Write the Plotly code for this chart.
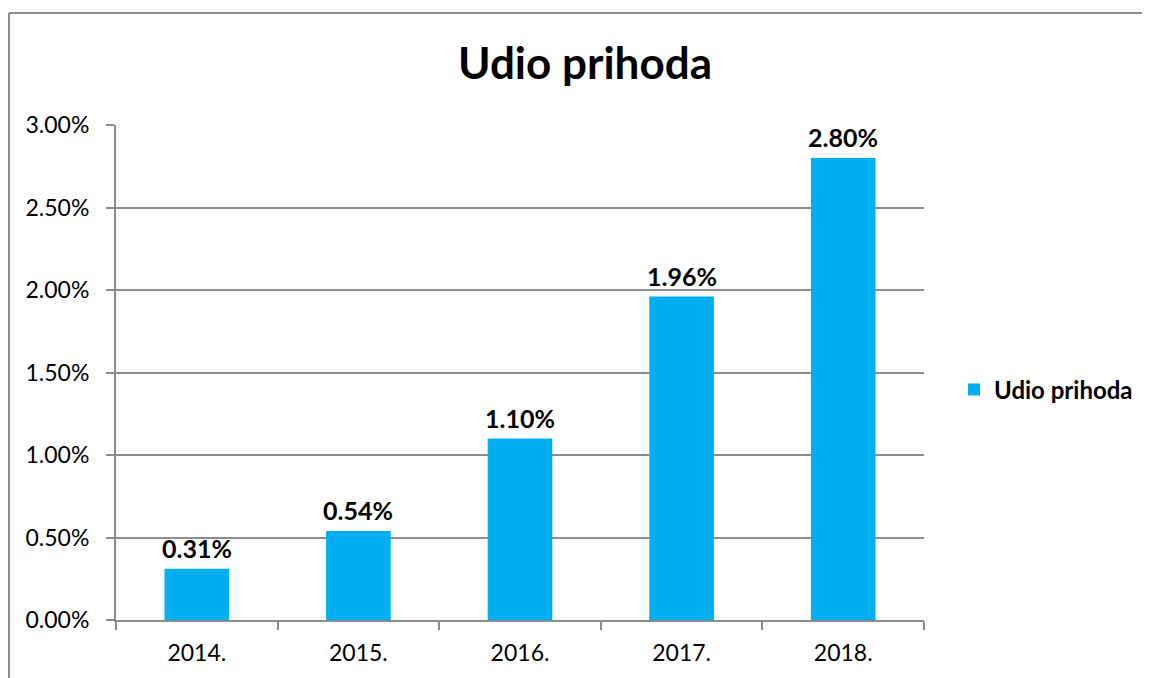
import plotly.graph_objects as go

categories = ["2014.", "2015.", "2016.", "2017.", "2018."]
values = [0.0031, 0.0054, 0.0110, 0.0196, 0.0280]
series_name = "Udio prihoda"
title_text = "Udio prihoda"
y_tickvals = [0, 0.005, 0.01, 0.015, 0.02, 0.025, 0.03]

FONT = "Lato, 'Open Sans', sans-serif"
GRID = "#8c8c8c"

# the page body adds an 8px offset; work in page pixels and convert
OFF = 8
W, H = 1150, 678
PL, PR, PT, PB = 116, 924, 125, 620  # plot area in page pixels
L = PL - OFF
T = PT - OFF
R = W - (PR - OFF)
B = H - (PB - OFF)
pw, ph = W - L - R, H - T - B


def px_x(p):
    return (p - OFF - L) / pw


def px_y(p):
    return (H - B - (p - OFF)) / ph


fig = go.Figure()
fig.add_trace(go.Bar(
    x=categories, y=values, name=series_name,
    marker=dict(color="#00B0F0", line=dict(width=0)),
    showlegend=True,
))

for i, (c, v) in enumerate(zip(categories, values)):
    fig.add_annotation(
        x=i, y=v, xref="x", yref="y", text=f"<b>{v:.2%}</b>",
        showarrow=False, yanchor="bottom", yshift=4,
        font=dict(family=FONT, size=25, color="black"),
    )

fig.update_layout(
    width=W, height=H,
    margin=dict(l=L, r=R, t=T, b=B),
    paper_bgcolor="white", plot_bgcolor="white",
    font=dict(family=FONT, size=23, color="black"),
    title=dict(text="<b>" + title_text + "</b>", x=(585 - OFF) / W, xanchor="center",
               y=1 - (64 - OFF) / H, yanchor="middle", yref="container",
               font=dict(family=FONT, size=44, color="black")),
    bargap=0.6,
    legend=dict(x=px_x(954), xanchor="left", y=px_y(390), yanchor="middle",
                font=dict(family=FONT, size=24, color="black", weight="bold"),
                itemwidth=30, bgcolor="rgba(0,0,0,0)"),
    xaxis=dict(type="category", showline=True, linecolor=GRID, linewidth=2,
               ticks="outside", tickson="boundaries", ticklen=8, tickcolor=GRID,
               tickwidth=2, showgrid=False, tickfont=dict(size=23, family=FONT),
               ticklabelstandoff=11, tickangle=0),
    yaxis=dict(range=[0, 0.03], tickvals=y_tickvals, tickformat=".2%",
               showline=True, linecolor=GRID, linewidth=2, ticks="outside",
               ticklen=8, tickcolor=GRID, tickwidth=2, showgrid=True,
               gridcolor=GRID, gridwidth=2, zeroline=False,
               tickfont=dict(size=23, family=FONT), ticklabelstandoff=12),
    shapes=[
        dict(type="line", xref="paper", yref="paper", x0=px_x(9), x1=px_x(1160),
             y0=px_y(13), y1=px_y(13), line=dict(color=GRID, width=2)),
        dict(type="line", xref="paper", yref="paper", x0=px_x(9), x1=px_x(9),
             y0=px_y(13), y1=px_y(700), line=dict(color=GRID, width=2)),
    ],
)

fig.write_html("out.html")
